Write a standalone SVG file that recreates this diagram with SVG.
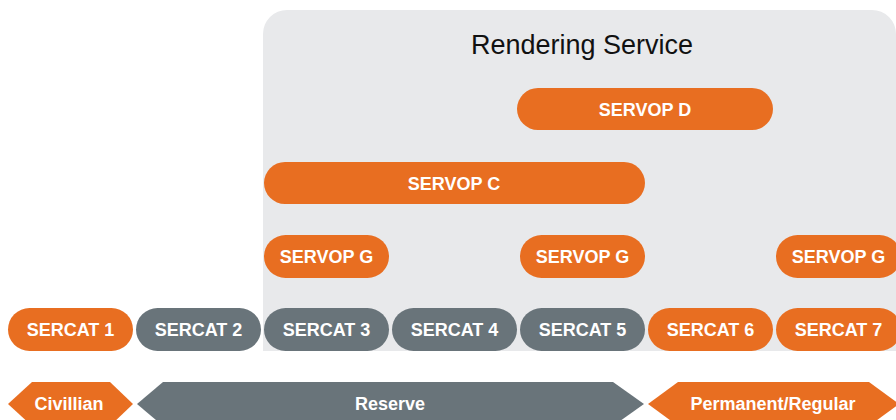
<svg xmlns="http://www.w3.org/2000/svg" width="896" height="420" viewBox="0 0 896 420">
<style>
.o{fill:#E86E21}
.g{fill:#69747A}
.t{font-family:"Liberation Sans",Arial,sans-serif;font-size:18px;font-weight:bold;fill:#FFFFFF;text-anchor:middle}
.title{font-family:"Liberation Sans",Arial,sans-serif;font-size:27px;fill:#111111;text-anchor:middle}
</style>
<rect width="896" height="420" fill="#FFFFFF"/>
<g id="rendering-service">
<path d="M263,351 V34 A24,24 0 0 1 287,10 H872 A24,24 0 0 1 896,34 V351 Z" fill="#E8E9EB"/>
<text class="title" x="582" y="54">Rendering Service</text>
</g>
<g id="connectors"></g>
<g id="servop-d"><rect class="o" x="517" y="88" width="256" height="42" rx="21"/><text class="t" x="645" y="115.5">SERVOP D</text></g>
<g id="servop-c"><rect class="o" x="264" y="162" width="381" height="42" rx="21"/><text class="t" x="454" y="189.5">SERVOP C</text></g>
<g id="servop-g1"><rect class="o" x="264" y="235" width="125" height="43" rx="21.5"/><text class="t" x="326.5" y="263">SERVOP G</text></g>
<g id="servop-g2"><rect class="o" x="520" y="235" width="125" height="43" rx="21.5"/><text class="t" x="582.5" y="263">SERVOP G</text></g>
<g id="servop-g3"><rect class="o" x="776" y="235" width="125" height="43" rx="21.5"/><text class="t" x="838.5" y="263">SERVOP G</text></g>
<g id="sercat-1"><rect class="o" x="8" y="308" width="125" height="43" rx="21.5"/><text class="t" x="70.5" y="336">SERCAT 1</text></g>
<g id="sercat-2"><rect class="g" x="136" y="308" width="125" height="43" rx="21.5"/><text class="t" x="198.5" y="336">SERCAT 2</text></g>
<g id="sercat-3"><rect class="g" x="264" y="308" width="125" height="43" rx="21.5"/><text class="t" x="326.5" y="336">SERCAT 3</text></g>
<g id="sercat-4"><rect class="g" x="392" y="308" width="125" height="43" rx="21.5"/><text class="t" x="454.5" y="336">SERCAT 4</text></g>
<g id="sercat-5"><rect class="g" x="520" y="308" width="125" height="43" rx="21.5"/><text class="t" x="582.5" y="336">SERCAT 5</text></g>
<g id="sercat-6"><rect class="o" x="648" y="308" width="125" height="43" rx="21.5"/><text class="t" x="710.5" y="336">SERCAT 6</text></g>
<g id="sercat-7"><rect class="o" x="776" y="308" width="125" height="43" rx="21.5"/><text class="t" x="838.5" y="336">SERCAT 7</text></g>
<g id="civillian"><polygon class="o" points="8,404 32,382 110,382 133,404 110,426 32,426"/><text class="t" x="69" y="410">Civillian</text></g>
<g id="reserve"><polygon class="g" points="137,404 163,382 613,382 644,404 613,426 163,426"/><text class="t" x="390" y="410">Reserve</text></g>
<g id="permanent-regular"><polygon class="o" points="648,404 678,382 869,382 899,404 869,426 678,426"/><text class="t" x="773" y="410">Permanent/Regular</text></g>
</svg>
